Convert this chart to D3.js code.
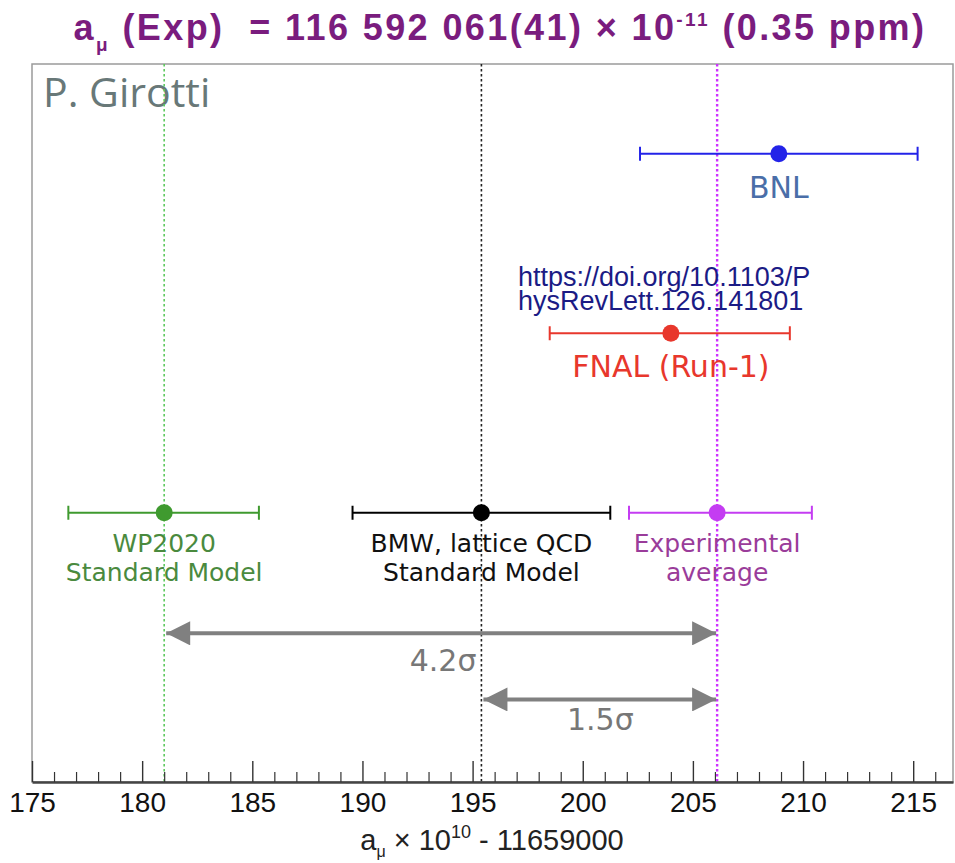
<!DOCTYPE html>
<html><head><meta charset="utf-8">
<script src="https://cdn.jsdelivr.net/npm/d3@7/dist/d3.min.js"></script>
<style>body{margin:0;background:#fff}</style>
</head><body><svg id="c" width="955" height="863"></svg>
<script>
// ---- data ----
const labels = [["BNL"], ["FNAL (Run-1)"], ["WP2020", "Standard Model"], ["BMW, lattice QCD", "Standard Model"], ["Experimental", "average"]];
const values = [208.9, 204.0, 181.0, 195.4, 206.1];
const errLow = [6.3, 5.5, 4.35, 5.85, 4.0];
const errHigh = [6.3, 5.4, 4.3, 5.85, 4.3];
const rows = [8.75, 6.25, 3.75, 3.75, 3.75];
const refLines = [181.0, 195.4, 206.1];
const tensionFrom = [181.0, 195.4];
const tensionTo = [206.1, 206.1];
const tensionRows = [2.07, 1.15];
const tensionLabels = ["4.2σ", "1.5σ"];
const majorTicks = [175, 180, 185, 190, 195, 200, 205, 210, 215];
const doiLines = ["https://doi.org/10.1103/P", "hysRevLett.126.141801"];

// ---- styles ----
const barColors = ["#2323e8", "#e8372c", "#3f9a2f", "#000000", "#c43cf2"];
const labelColors = ["#4a6ea8", "#e8372c", "#4a8a3e", "#111111", "#9a3c9a"];
const labelSizes = [30, 30, 25, 25, 25];
const refColors = ["#5cc85c", "#222222", "#cc33ff"];
const refWidths = [1.6, 1.6, 2.4];

const svg = d3.select("#c");
const L = 32, R = 953, T = 64, B = 782;
const x = d3.scaleLinear().domain([175, 175 + (R - L) / 22.03]).range([L, R]);
const y = d3.scaleLinear().domain([0, 10]).range([B, T]);

// title
const title = svg.append("text").attr("x", 500).attr("y", 40).attr("text-anchor", "middle")
  .attr("xml:space", "preserve").style("white-space", "pre")
  .attr("font-family", "'Liberation Sans', Arial, sans-serif").attr("letter-spacing", 2.4)
  .attr("font-weight", "bold").attr("font-size", 36).attr("fill", "#7a1c7e");
title.append("tspan").text("a");
title.append("tspan").attr("font-size", 19).attr("dy", 11).text("μ");
title.append("tspan").attr("dy", -11).text(" (Exp)  = 116 592 061(41) × 10");
title.append("tspan").attr("font-size", 19).attr("dy", -14).text("-11");
title.append("tspan").attr("dy", 14).text(" (0.35 ppm)");

// frame
svg.append("rect").attr("x", L).attr("y", T).attr("width", R - L).attr("height", B - T)
  .attr("fill", "none").attr("stroke", "#9a9a9a").attr("stroke-width", 1.5);

// author
svg.append("text").attr("x", 43).attr("y", 107).attr("font-family", "'Open Sans', sans-serif")
  .attr("font-size", 41).attr("fill", "#687878").text("P. Girotti");

// reference lines
svg.selectAll("line.ref").data(refLines).join("line").attr("class", "ref")
  .attr("x1", d => x(d)).attr("x2", d => x(d)).attr("y1", T).attr("y2", B)
  .attr("stroke", (d, i) => refColors[i]).attr("stroke-width", (d, i) => refWidths[i])
  .attr("stroke-dasharray", "2.5,2.5");

// axis
const xAxis = d3.axisBottom(x).tickValues(majorTicks).tickSizeInner(-21).tickSizeOuter(0).tickPadding(10).tickFormat(d3.format("d"));
const gx = svg.append("g").attr("transform", `translate(0,${B})`).call(xAxis);
gx.select(".domain").attr("stroke", "#444").attr("stroke-width", 2.5);
gx.selectAll(".tick line").attr("stroke", "#333").attr("stroke-width", 1.4);
gx.selectAll(".tick text").attr("font-family", "'Liberation Sans', Arial, sans-serif")
  .attr("font-size", 28).attr("fill", "#111");
const minor = d3.range(176, 217).filter(v => v % 5 !== 0);
const gm = svg.append("g").attr("transform", `translate(0,${B})`)
  .call(d3.axisBottom(x).tickValues(minor).tickSizeInner(-10).tickSizeOuter(0).tickFormat(""));
gm.select(".domain").remove();
gm.selectAll(".tick line").attr("stroke", "#333").attr("stroke-width", 1.2);

// axis title
const xt = svg.append("text").attr("x", 492).attr("y", 850).attr("text-anchor", "middle")
  .attr("font-family", "'Liberation Sans', Arial, sans-serif").attr("font-size", 29).attr("fill", "#222");
xt.append("tspan").text("a");
xt.append("tspan").attr("font-size", 16).attr("dy", 7).text("μ");
xt.append("tspan").attr("dy", -7).text(" × 10");
xt.append("tspan").attr("font-size", 18).attr("dy", -12).text("10");
xt.append("tspan").attr("dy", 12).text(" - 11659000");

// error bars
const g = svg.append("g");
values.forEach((v, i) => {
  const yy = y(rows[i]);
  g.append("line").attr("x1", x(v - errLow[i])).attr("x2", x(v + errHigh[i])).attr("y1", yy).attr("y2", yy)
    .attr("stroke", barColors[i]).attr("stroke-width", 2);
  [v - errLow[i], v + errHigh[i]].forEach(e => g.append("line").attr("x1", x(e)).attr("x2", x(e))
    .attr("y1", yy - 7).attr("y2", yy + 7).attr("stroke", barColors[i]).attr("stroke-width", 2));
  g.append("circle").attr("cx", x(v)).attr("cy", yy).attr("r", 8.5).attr("fill", barColors[i]);
  const off = labelSizes[i] === 30 ? 44 : 39;
  labels[i].forEach((t, k) => g.append("text").attr("x", x(v)).attr("y", yy + off + k * 29)
    .attr("text-anchor", "middle").attr("font-family", "'DejaVu Sans', sans-serif")
    .attr("font-size", labelSizes[i]).attr("fill", labelColors[i]).text(t));
});

// doi
doiLines.forEach((t, k) => svg.append("text").attr("x", 518).attr("y", 286 + k * 24)
  .attr("font-family", "'Liberation Sans', Arial, sans-serif").attr("font-size", 27)
  .attr("fill", "#1b1b85").text(t));

// tension arrows
const defs = svg.append("defs");
defs.append("marker").attr("id", "ah").attr("viewBox", "0 0 10 10").attr("refX", 10).attr("refY", 5)
  .attr("markerWidth", 6.5).attr("markerHeight", 6).attr("markerUnits", "strokeWidth").attr("orient", "auto-start-reverse")
  .append("path").attr("d", "M0,0 L10,5 L0,10 Z").attr("fill", "#808080");
tensionFrom.forEach((f, i) => {
  const yy = y(tensionRows[i]);
  svg.append("line").attr("x1", x(f) + 2).attr("x2", x(tensionTo[i]) - 1).attr("y1", yy).attr("y2", yy)
    .attr("stroke", "#808080").attr("stroke-width", 4)
    .attr("marker-start", "url(#ah)").attr("marker-end", "url(#ah)");
});
svg.append("text").attr("x", x(195.4) - 5).attr("y", y(tensionRows[0]) + 38).attr("text-anchor", "end")
  .attr("font-family", "'DejaVu Sans', sans-serif").attr("font-size", 30).attr("fill", "#777").text(tensionLabels[0]);
svg.append("text").attr("x", x(200.8)).attr("y", y(tensionRows[1]) + 31).attr("text-anchor", "middle")
  .attr("font-family", "'DejaVu Sans', sans-serif").attr("font-size", 30).attr("fill", "#777").text(tensionLabels[1]);
</script></body></html>
